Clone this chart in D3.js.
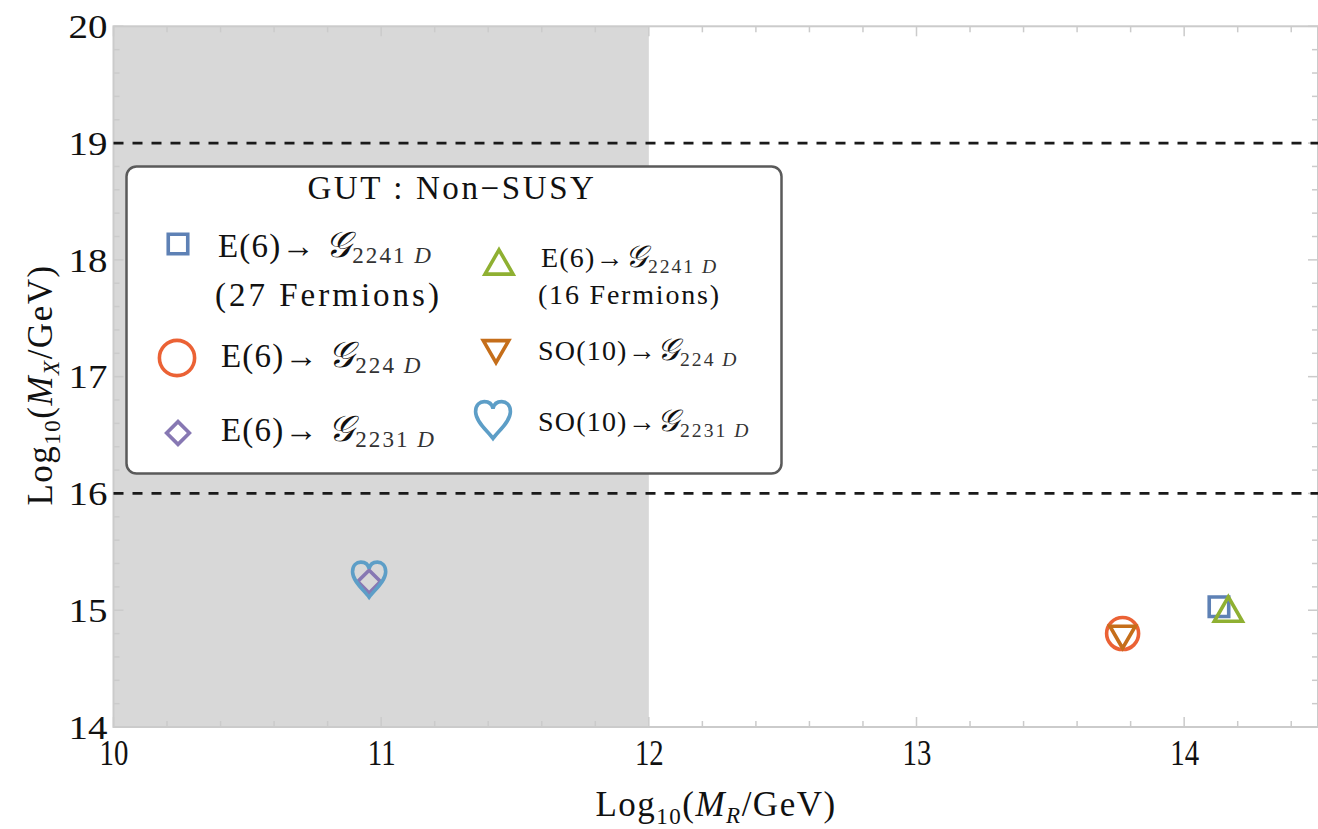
<!DOCTYPE html>
<html>
<head>
<meta charset="utf-8">
<script src="https://cdn.jsdelivr.net/npm/d3@7"></script>
<style>
  body { margin: 0; background: #fff; }
  text { font-family: "Liberation Serif", "Times New Roman", serif; fill: #111; }
</style>
</head>
<body>
<svg id="chart" width="1318" height="829"></svg>
<script>
// Breaking chains: intermediate scale M_R vs unification scale M_X (log10 GeV)
const seriesNames  = ["E6 -> G2241D (27F)", "E6 -> G224D", "E6 -> G2231D",
                      "E6 -> G2241D (16F)", "SO10 -> G224D", "SO10 -> G2231D"];
const seriesLogMR  = [14.13, 13.77, 10.955, 14.165, 13.77, 10.955];
const seriesLogMX  = [15.03, 14.80, 15.245, 14.975, 14.80, 15.27];
const seriesColors = ["#5e81b5", "#eb6235", "#8778b3", "#8fb032", "#c56e1a", "#5d9ec7"];
const seriesShapes = ["square", "circle", "diamond", "triangle", "triangleDown", "heart"];

const xTickValues = [10, 11, 12, 13, 14];
const yTickValues = [14, 15, 16, 17, 18, 19, 20];
const xDomain = [10, 14.5];
const yDomain = [14, 20];
const excludedMR = [10, 12];      // shaded band
const boundLevels = [16, 19];     // dashed horizontal bounds

const svg = d3.select("#chart");
const x = d3.scaleLinear().domain(xDomain).range([113.5, 1318]);
const y = d3.scaleLinear().domain(yDomain).range([727, 26.3]);

// shaded band
svg.append("rect")
  .attr("x", x(excludedMR[0])).attr("y", y(yDomain[1]))
  .attr("width", x(excludedMR[1]) - x(excludedMR[0]))
  .attr("height", y(yDomain[0]) - y(yDomain[1]))
  .attr("fill", "#d8d8d8");

// frame ticks (major + minor, inward, all four sides)
const frameColor = "#cbcbcb";
const minorX = d3.range(10, 14.5001, 0.2).map(v => +v.toFixed(2));
const minorY = d3.range(14, 20.0001, 0.2).map(v => +v.toFixed(2));
const isMajor = v => Math.abs(v - Math.round(v)) < 1e-6;
const ticksG = svg.append("g").attr("stroke", frameColor).attr("stroke-width", 1.5);
minorX.forEach(v => {
  const len = isMajor(v) ? 10 : 6;
  ticksG.append("line").attr("x1", x(v)).attr("x2", x(v)).attr("y1", y(14)).attr("y2", y(14) - len);
  ticksG.append("line").attr("x1", x(v)).attr("x2", x(v)).attr("y1", y(20)).attr("y2", y(20) + len);
});
minorY.forEach(v => {
  const len = isMajor(v) ? 10 : 6;
  ticksG.append("line").attr("y1", y(v)).attr("y2", y(v)).attr("x1", x(10)).attr("x2", x(10) + len);
  ticksG.append("line").attr("y1", y(v)).attr("y2", y(v)).attr("x1", x(14.5)).attr("x2", x(14.5) - len);
});

// frame
svg.append("rect")
  .attr("x", x(10)).attr("y", y(20))
  .attr("width", x(14.5) - x(10)).attr("height", y(14) - y(20))
  .attr("fill", "none").attr("stroke", frameColor).attr("stroke-width", 2);

// dashed bounds
svg.selectAll("line.bound").data(boundLevels).join("line")
  .attr("class", "bound")
  .attr("x1", x(10)).attr("x2", x(14.5))
  .attr("y1", d => y(d)).attr("y2", d => y(d))
  .attr("stroke", "#1a1a1a").attr("stroke-width", 2.8)
  .attr("stroke-dasharray", "10,9");

// axes tick labels
const xAxis = d3.axisBottom(x).tickValues(xTickValues).tickSize(0).tickPadding(0).tickFormat(d3.format("d"));
const gx = svg.append("g").attr("transform", `translate(0, ${y(14)})`).call(xAxis);
gx.select(".domain").remove();
gx.selectAll("text").attr("y", 38).attr("dy", 0).attr("transform", "scale(0.8,1)")
  .style("font-family", "'Liberation Serif', serif").style("font-size", "36px").attr("fill", "#111");

const yAxis = d3.axisLeft(y).tickValues(yTickValues).tickSize(0).tickPadding(0).tickFormat(d3.format("d"));
const gy = svg.append("g").attr("transform", `translate(${x(10) - 6}, 0)`).call(yAxis);
gy.select(".domain").remove();
gy.selectAll("text").attr("x", 0).attr("dy", "0.34em").attr("transform", "scale(1.18,1)")
  .style("font-family", "'Liberation Serif', serif").style("font-size", "33px").attr("fill", "#111");

// heart symbol type for d3.symbol
const symbolHeart = {
  draw(ctx, size) {
    const s = Math.sqrt(size) / 2;
    ctx.moveTo(0, 1.12 * s);
    ctx.bezierCurveTo(-0.3 * s, 0.7 * s, -1.0 * s, 0.15 * s, -1.0 * s, -0.42 * s);
    ctx.bezierCurveTo(-1.0 * s, -0.82 * s, -0.75 * s, -1.0 * s, -0.5 * s, -1.0 * s);
    ctx.bezierCurveTo(-0.24 * s, -1.0 * s, -0.05 * s, -0.85 * s, 0, -0.6 * s);
    ctx.bezierCurveTo(0.05 * s, -0.85 * s, 0.24 * s, -1.0 * s, 0.5 * s, -1.0 * s);
    ctx.bezierCurveTo(0.75 * s, -1.0 * s, 1.0 * s, -0.82 * s, 1.0 * s, -0.42 * s);
    ctx.bezierCurveTo(1.0 * s, 0.15 * s, 0.3 * s, 0.7 * s, 0, 1.12 * s);
    ctx.closePath();
  }
};

const shapeSpec = {
  square:       { type: d3.symbolSquare,   size: 380, rot: 0 },
  circle:       { type: d3.symbolCircle,   size: Math.PI * 16 * 16, rot: 0 },
  diamond:      { type: d3.symbolSquare,   size: 260, rot: 45 },
  triangle:     { type: d3.symbolTriangle, size: 340, rot: 0 },
  triangleDown: { type: d3.symbolTriangle, size: 280, rot: 180 },
  heart:        { type: symbolHeart,       size: 1100, rot: 0 }
};
function marker(sel, shape, color, scale = 1) {
  const spec = shapeSpec[shape];
  sel.append("path")
    .attr("d", d3.symbol(spec.type, spec.size * scale * scale)())
    .attr("transform", `rotate(${spec.rot})`)
    .attr("fill", "none").attr("stroke", color).attr("stroke-width", 3.6)
    .attr("stroke-linejoin", "miter");
}

// data points
const points = seriesNames.map((name, i) => ({
  name, mr: seriesLogMR[i], mx: seriesLogMX[i], color: seriesColors[i], shape: seriesShapes[i]
}));
svg.append("g").selectAll("g").data(points).join("g")
  .attr("transform", d => `translate(${x(d.mr)}, ${y(d.mx)})`)
  .each(function (d) { marker(d3.select(this), d.shape, d.color); });

// legend
const legend = svg.append("g");
legend.append("rect")
  .attr("x", 126.5).attr("y", 166.5).attr("width", 655).attr("height", 307).attr("rx", 10)
  .attr("fill", "#fff").attr("stroke", "#5a5a5a").attr("stroke-width", 2.5);
legend.append("text").attr("x", 452).attr("y", 199).attr("text-anchor", "middle")
  .style("font-size", "33px").style("letter-spacing", "2.6px").text("GUT : Non\u2212SUSY");

const legendLabels = [
  { pre: "E(6)\u2192 ", sub: "2241", extra: "(27 Fermions)" },
  { pre: "E(6)\u2192 ", sub: "224", extra: null },
  { pre: "E(6)\u2192 ", sub: "2231", extra: null },
  { pre: "E(6)\u2192", sub: "2241", extra: "(16 Fermions)" },
  { pre: "SO(10)\u2192", sub: "224", extra: null },
  { pre: "SO(10)\u2192", sub: "2231", extra: null }
];
const legendLayout = [
  { mx: 178, my: 244, ms: 1.0,  tx: 218, ty: 257, fs: 33, ls: 1.2, ey: 306 },
  { mx: 177, my: 358, ms: 1.1,  tx: 221, ty: 367, fs: 33, ls: 1.2 },
  { mx: 178, my: 433, ms: 1.0,  tx: 221, ty: 441, fs: 33, ls: 1.2 },
  { mx: 499, my: 266, ms: 1.0,  tx: 541, ty: 267, fs: 28, ls: 1.2, ey: 304 },
  { mx: 496, my: 348, ms: 1.0,  tx: 538, ty: 360, fs: 28, ls: 1.2 },
  { mx: 493, my: 419, ms: 1.05, tx: 538, ty: 431, fs: 28, ls: 1.2 }
];
legendLabels.forEach((lab, i) => {
  const L = legendLayout[i];
  const g = legend.append("g");
  marker(g.append("g").attr("transform", `translate(${L.mx}, ${L.my})`), seriesShapes[i], seriesColors[i], L.ms);
  const t = g.append("text").attr("x", L.tx).attr("y", L.ty)
    .style("font-size", L.fs + "px").style("letter-spacing", L.ls + "px");
  t.append("tspan").text(lab.pre);
  t.append("tspan").style("font-style", "italic").style("font-size", (L.fs * 1.1) + "px").text("\uD835\uDCA2");
  t.append("tspan").attr("dy", 6).style("font-size", (L.fs * 0.7) + "px").style("letter-spacing", "2px")
    .attr("fill", "#333").text(lab.sub + " ");
  t.append("tspan").style("font-size", (L.fs * 0.7) + "px").style("font-style", "italic").attr("fill", "#333").text("D");
  if (lab.extra) {
    g.append("text").attr("x", L.tx - 3).attr("y", L.ey).style("font-size", L.fs + "px")
      .style("letter-spacing", (L.fs > 30 ? 3 : 1.8) + "px").text(lab.extra);
  }
});

// axis titles
function axisTitle(sel, sub) {
  sel.append("tspan").text("Log");
  sel.append("tspan").attr("dy", 8).style("font-size", "23px").text("10");
  sel.append("tspan").attr("dy", -8).text("(");
  sel.append("tspan").style("font-style", "italic").text("M");
  sel.append("tspan").attr("dy", 7).style("font-size", "23px").style("font-style", "italic").text(sub);
  sel.append("tspan").attr("dy", -7).text("/GeV)");
}
const xt = svg.append("text").attr("x", 716).attr("y", 816).attr("text-anchor", "middle")
  .style("font-size", "35px").style("letter-spacing", "1.5px");
axisTitle(xt, "R");
const yt = svg.append("text").attr("transform", "translate(52, 385) rotate(-90)").attr("text-anchor", "middle")
  .style("font-size", "35px").style("letter-spacing", "1.5px");
axisTitle(yt, "X");
</script>
</body>
</html>
